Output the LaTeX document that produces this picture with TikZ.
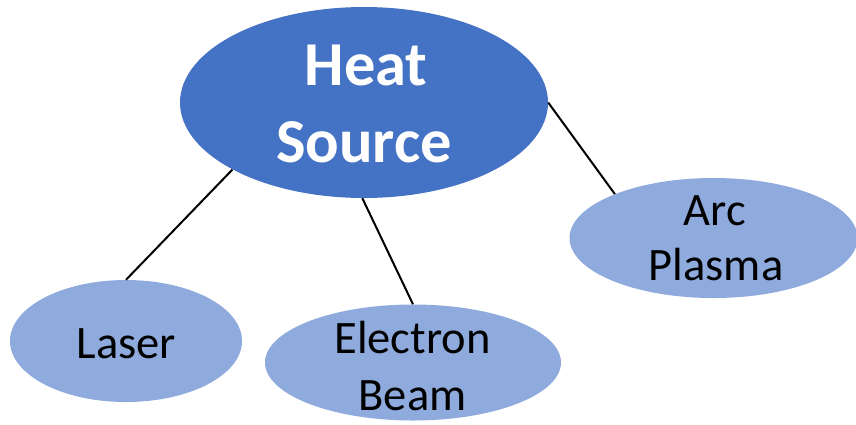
\documentclass[tikz,border=0pt]{standalone}
\usepackage{fontspec}
\setmainfont{Carlito}
\usetikzlibrary{shapes.geometric}
\definecolor{mainblue}{HTML}{4472C4}
\definecolor{lightblue}{HTML}{8FAADC}
\begin{document}
\begin{tikzpicture}[x=1pt,y=-1pt,
  bubble/.style={ellipse,inner sep=0pt,draw=none},
  mainbubble/.style={bubble,fill=mainblue,minimum width=368pt,minimum height=191pt},
  subbubble/.style={bubble,fill=lightblue},
  maintext/.style={anchor=base,inner sep=0pt,text=white,font=\fontsize{62.5}{74}\selectfont\bfseries},
  subtext/.style={anchor=base,inner sep=0pt,text=black,font=\fontsize{46.5}{55}\selectfont},
  link/.style={draw=black,line width=2pt}]
\useasboundingbox (0,0) rectangle (856,424);
\node[mainbubble] (heat) at (364,102.5) {};
\node[subbubble,minimum width=232pt,minimum height=122pt] (laser) at (126,341) {};
\node[subbubble,minimum width=296pt,minimum height=116pt] (ebeam) at (413,362.5) {};
\node[subbubble,minimum width=288pt,minimum height=120pt] (arc) at (713.5,238) {};
\draw[link] (heat.207.9) -- (laser.90);
\draw[link] (heat.269.4) -- (ebeam.90);
\draw[link] (heat.0) -- (arc.156.7);
\node[maintext] (t1) at (366,85) {Heat};
\node[maintext] (t2) at (364,162) {Source};
\node[subtext] (t3) at (126.5,358) {Laser};
\node[subtext] (t4) at (412.5,353) {Electron};
\node[subtext] (t5) at (412.5,410) {Beam};
\node[subtext] (t6) at (715,225) {Arc};
\node[subtext] (t7) at (716,280) {Plasma};
\end{tikzpicture}
\end{document}
